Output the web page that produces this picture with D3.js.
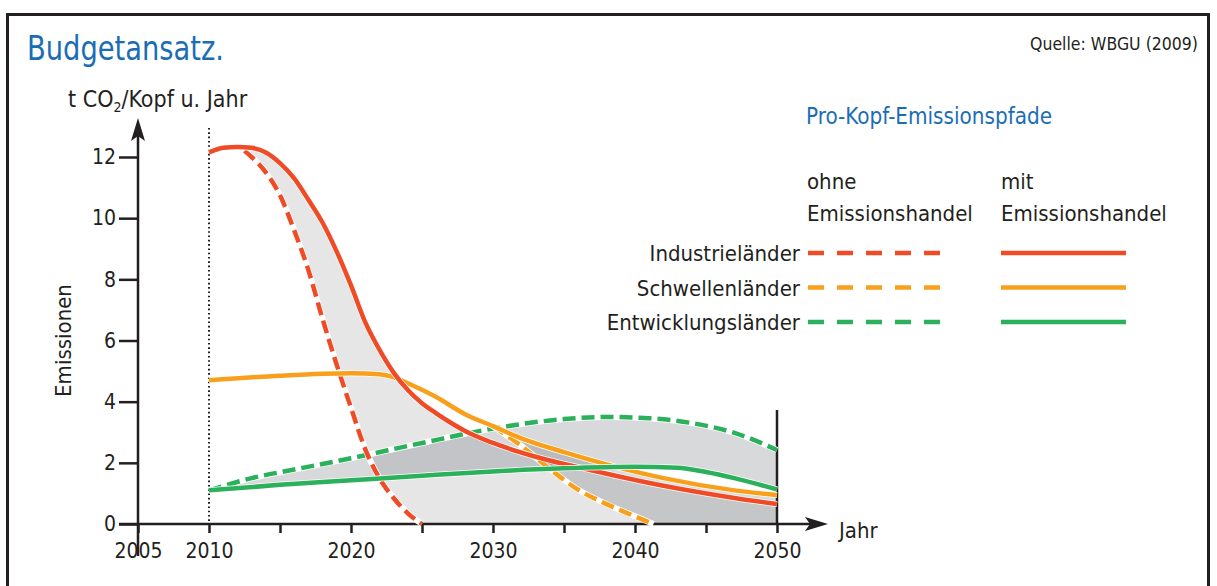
<!DOCTYPE html>
<html>
<head>
<meta charset="utf-8">
<script src="https://cdn.jsdelivr.net/npm/d3@7"></script>
<style>
  body { margin: 0; background: #fff; }
  svg text { font-family: "Liberation Sans Narrow", "DejaVu Sans Condensed", sans-serif; fill: #231f20; }
</style>
</head>
<body>
<div id="chart"></div>
<script>
// per-capita emission paths, t CO2 per person and year
const industrieMit  = [[2010,12.15],[2011,12.3],[2012,12.33],[2013,12.3],[2014,12.15],[2015,11.8],[2016,11.3],[2017,10.6],[2018,9.85],[2019,8.9],[2020,7.8],[2021,6.6],[2022,5.7],[2023,4.95],[2024,4.38],[2025,3.95],[2026,3.62],[2027,3.32],[2028,3.05],[2030,2.65],[2033,2.2],[2037,1.75],[2042,1.25],[2047,0.85],[2050,0.65]];
const industrieOhne = [[2012.5,12.2],[2013,12.0],[2014,11.5],[2015,10.75],[2016,9.6],[2017,8.3],[2018,6.7],[2019,5.2],[2020,3.8],[2021,2.45],[2022,1.5],[2023,0.85],[2024,0.35],[2025,0]];
const schwellenMit  = [[2010,4.7],[2015,4.85],[2020,4.93],[2022,4.9],[2023,4.8],[2024,4.6],[2026,4.15],[2028,3.6],[2030,3.2],[2032,2.8],[2035,2.35],[2038,1.95],[2042,1.5],[2047,1.1],[2050,0.95]];
const schwellenOhne = [[2030,3.2],[2032,2.55],[2034,1.8],[2036,1.12],[2038,0.65],[2040,0.25],[2041.3,0]];
const entwMit       = [[2010,1.1],[2015,1.28],[2020,1.43],[2025,1.58],[2030,1.72],[2035,1.82],[2040,1.87],[2043,1.84],[2045,1.7],[2047,1.5],[2050,1.13]];
const entwOhne      = [[2010,1.1],[2013,1.5],[2016,1.78],[2020,2.15],[2025,2.65],[2030,3.12],[2035,3.43],[2038,3.5],[2041,3.46],[2044,3.3],[2047,2.98],[2050,2.42]];

const yTicks = [0, 2, 4, 6, 8, 10, 12];
const xTicks = d3.range(2005, 2051, 5);
const xLabels = [2005, 2010, 2020, 2030, 2040, 2050];
const legendRows = ["Industrieländer", "Schwellenländer", "Entwicklungsländer"];
const legendColors = ["#ee4b26", "#f8a01c", "#2bb05b"];

const width = 1217, height = 586;
const blue = "#1a6db5", ink = "#231f20";

const svg = d3.select("#chart").append("svg")
    .attr("width", width)
    .attr("height", height);

// frame
svg.append("rect")
    .attr("x", 7.5).attr("y", 14.5)
    .attr("width", 1201).attr("height", 620)
    .attr("fill", "none").attr("stroke", ink).attr("stroke-width", 3);

// scales
const x = d3.scaleLinear().domain([2005, 2050]).range([138, 777]);
const y = d3.scaleLinear().domain([0, 12]).range([524, 157]);

const line = d3.line().x(d => x(d[0])).y(d => y(d[1])).curve(d3.curveMonotoneX);
const under = d3.area().x(d => x(d[0])).y0(y(0)).y1(d => y(d[1])).curve(d3.curveMonotoneX);

const defs = svg.append("defs");

// shaded band = area under the upper path, minus area under the lower path,
// starting where the lower path starts
function band(id, upper, lower, opacity) {
    const m = defs.append("mask").attr("id", id).attr("maskUnits", "userSpaceOnUse")
        .attr("x", 0).attr("y", 0).attr("width", width).attr("height", height);
    m.append("rect")
        .attr("x", x(lower[0][0]) + 1).attr("y", 0)
        .attr("width", width).attr("height", height).attr("fill", "#fff");
    m.append("path").attr("d", under(lower)).attr("fill", "#000");
    svg.append("path")
        .attr("d", under(upper))
        .attr("mask", `url(#${id})`)
        .attr("fill", "#191e28")
        .attr("fill-opacity", opacity);
}

band("m-ind", industrieMit, industrieOhne, 0.11);
band("m-schw", schwellenMit, schwellenOhne, 0.16);
band("m-entw", entwOhne, entwMit, 0.17);

// dotted line at 2010
svg.append("line")
    .attr("x1", x(2010)).attr("x2", x(2010))
    .attr("y1", 128).attr("y2", y(0))
    .attr("stroke", ink).attr("stroke-width", 2)
    .attr("stroke-dasharray", "1.6,2.7");

// solid line at 2050
svg.append("line")
    .attr("x1", x(2050)).attr("x2", x(2050))
    .attr("y1", 410).attr("y2", y(0))
    .attr("stroke", ink).attr("stroke-width", 2.5);

// axes
const yAxis = svg.append("g")
    .attr("transform", `translate(${x(2005)},0)`)
    .call(d3.axisLeft(y).tickValues(yTicks).tickSize(19).tickPadding(3));
yAxis.select(".domain").remove();
yAxis.selectAll("line").attr("stroke", ink).attr("stroke-width", 2.5);
yAxis.selectAll("text").style("font-size", "21px").attr("fill", ink);

const xAxis = svg.append("g")
    .attr("transform", `translate(0,${y(0)})`)
    .call(d3.axisBottom(x).tickValues(xTicks).tickSize(9).tickPadding(10)
        .tickFormat(d => xLabels.includes(d) ? d : ""));
xAxis.select(".domain").remove();
xAxis.selectAll("line").attr("stroke", ink).attr("stroke-width", 2.5);
xAxis.selectAll("text").style("font-size", "21px").attr("fill", ink);

// axis lines with arrows
svg.append("line")
    .attr("x1", x(2005)).attr("x2", x(2005))
    .attr("y1", 556).attr("y2", 132)
    .attr("stroke", ink).attr("stroke-width", 2.5);
svg.append("line")
    .attr("x1", x(2005) - 19).attr("x2", 812)
    .attr("y1", y(0)).attr("y2", y(0))
    .attr("stroke", ink).attr("stroke-width", 2.5);
const ax = x(2005);
svg.append("path")
    .attr("d", `M${ax},118 L${ax + 7},141 L${ax},136 L${ax - 7},141 Z`)
    .attr("fill", ink);
svg.append("path")
    .attr("d", `M828,${y(0)} L805,${y(0) - 7} L810,${y(0)} L805,${y(0) + 7} Z`)
    .attr("fill", ink);

// emission paths
const series = [
    { data: entwOhne, color: legendColors[2], dash: true },
    { data: schwellenOhne, color: legendColors[1], dash: true },
    { data: industrieOhne, color: legendColors[0], dash: true },
    { data: schwellenMit, color: legendColors[1], dash: false },
    { data: industrieMit, color: legendColors[0], dash: false },
    { data: entwMit, color: legendColors[2], dash: false }
];
series.forEach(function(s) {
    svg.append("path")
        .attr("d", line(s.data))
        .attr("fill", "none")
        .attr("stroke", "#fff")
        .attr("stroke-width", 6);
    svg.append("path")
        .attr("d", line(s.data))
        .attr("fill", "none")
        .attr("stroke", s.color)
        .attr("stroke-width", 4.5)
        .attr("stroke-dasharray", s.dash ? "13,6" : null);
});

// texts
svg.append("text")
    .attr("x", 27).attr("y", 60)
    .attr("textLength", 197).attr("lengthAdjust", "spacingAndGlyphs")
    .style("font-size", "34px").style("fill", blue)
    .text("Budgetansatz.");

svg.append("text")
    .attr("x", 1198).attr("y", 50)
    .attr("text-anchor", "end")
    .style("font-size", "17.5px")
    .text("Quelle: WBGU (2009)");

const yLab = svg.append("text")
    .attr("x", 68).attr("y", 107)
    .style("font-size", "23px");
yLab.append("tspan").text("t CO");
yLab.append("tspan").attr("dy", 5).style("font-size", "14px").text("2");
yLab.append("tspan").attr("dy", -5).text("/Kopf u. Jahr");

svg.append("text")
    .attr("transform", `translate(71,${y(6)}) rotate(-90)`)
    .attr("text-anchor", "middle")
    .style("font-size", "22px")
    .text("Emissionen");

svg.append("text")
    .attr("x", 839).attr("y", 538)
    .style("font-size", "22px")
    .text("Jahr");

// legend
svg.append("text")
    .attr("x", 806).attr("y", 124)
    .attr("textLength", 246).attr("lengthAdjust", "spacingAndGlyphs")
    .style("font-size", "23px").style("fill", blue)
    .text("Pro-Kopf-Emissionspfade");

[["ohne", 807], ["mit", 1001]].forEach(function(h) {
    svg.append("text").attr("x", h[1]).attr("y", 189).style("font-size", "22px").text(h[0]);
    svg.append("text").attr("x", h[1]).attr("y", 221).style("font-size", "22px").text("Emissionshandel");
});

legendRows.forEach(function(name, i) {
    const ly = 253 + i * 34.5;
    svg.append("text")
        .attr("x", 800).attr("y", ly + 8)
        .attr("text-anchor", "end")
        .style("font-size", "22px")
        .text(name);
    svg.append("line")
        .attr("x1", 808).attr("x2", 940)
        .attr("y1", ly).attr("y2", ly)
        .attr("stroke", legendColors[i]).attr("stroke-width", 4.5)
        .attr("stroke-dasharray", "16,13");
    svg.append("line")
        .attr("x1", 1001).attr("x2", 1126)
        .attr("y1", ly).attr("y2", ly)
        .attr("stroke", legendColors[i]).attr("stroke-width", 4.5);
});
</script>
</body>
</html>
